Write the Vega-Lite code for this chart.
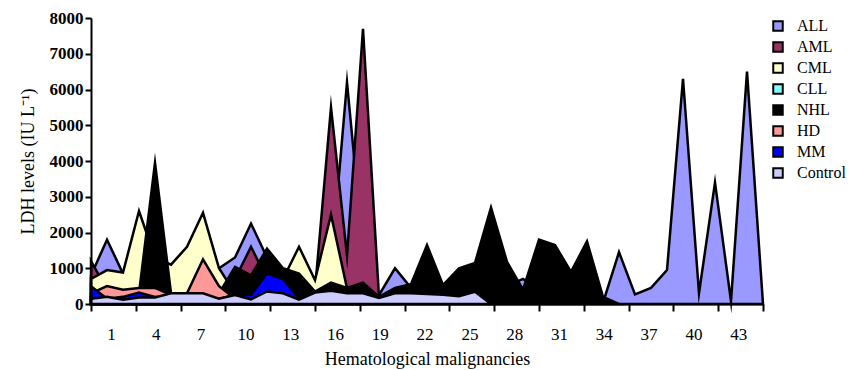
{
  "$schema": "https://vega.github.io/schema/vega-lite/v6.json",
  "width": 672,
  "height": 286,
  "autosize": {"type": "none"},
  "padding": {"left": 91, "top": 18, "right": 94, "bottom": 66},
  "background": "white",
  "config": {"view": {"stroke": null}, "font": "Liberation Serif"},
  "data": {"values": [
    {"group":"ALL","case":1,"ldh":800},{"group":"ALL","case":2,"ldh":1800},{"group":"ALL","case":3,"ldh":850},{"group":"ALL","case":4,"ldh":500},{"group":"ALL","case":5,"ldh":500},{"group":"ALL","case":6,"ldh":600},{"group":"ALL","case":7,"ldh":600},{"group":"ALL","case":8,"ldh":700},{"group":"ALL","case":9,"ldh":1000},{"group":"ALL","case":10,"ldh":1300},{"group":"ALL","case":11,"ldh":2250},{"group":"ALL","case":12,"ldh":1300},{"group":"ALL","case":13,"ldh":880},{"group":"ALL","case":14,"ldh":500},{"group":"ALL","case":15,"ldh":400},{"group":"ALL","case":16,"ldh":1000},{"group":"ALL","case":17,"ldh":6200},{"group":"ALL","case":18,"ldh":1500},{"group":"ALL","case":19,"ldh":250},{"group":"ALL","case":20,"ldh":1000},{"group":"ALL","case":21,"ldh":450},{"group":"ALL","case":22,"ldh":400},{"group":"ALL","case":23,"ldh":400},{"group":"ALL","case":24,"ldh":400},{"group":"ALL","case":25,"ldh":400},{"group":"ALL","case":26,"ldh":400},{"group":"ALL","case":27,"ldh":500},{"group":"ALL","case":28,"ldh":700},{"group":"ALL","case":29,"ldh":400},{"group":"ALL","case":30,"ldh":400},{"group":"ALL","case":31,"ldh":400},{"group":"ALL","case":32,"ldh":300},{"group":"ALL","case":33,"ldh":30},{"group":"ALL","case":34,"ldh":1450},{"group":"ALL","case":35,"ldh":270},{"group":"ALL","case":36,"ldh":450},{"group":"ALL","case":37,"ldh":950},{"group":"ALL","case":38,"ldh":6300},{"group":"ALL","case":39,"ldh":300},{"group":"ALL","case":40,"ldh":3400},{"group":"ALL","case":41,"ldh":80},{"group":"ALL","case":42,"ldh":6500},{"group":"ALL","case":43,"ldh":0},
    {"group":"AML","case":1,"ldh":1200},{"group":"AML","case":2,"ldh":400},{"group":"AML","case":3,"ldh":400},{"group":"AML","case":4,"ldh":400},{"group":"AML","case":5,"ldh":400},{"group":"AML","case":6,"ldh":400},{"group":"AML","case":7,"ldh":400},{"group":"AML","case":8,"ldh":400},{"group":"AML","case":9,"ldh":500},{"group":"AML","case":10,"ldh":700},{"group":"AML","case":11,"ldh":1600},{"group":"AML","case":12,"ldh":700},{"group":"AML","case":13,"ldh":500},{"group":"AML","case":14,"ldh":400},{"group":"AML","case":15,"ldh":400},{"group":"AML","case":16,"ldh":5500},{"group":"AML","case":17,"ldh":1350},{"group":"AML","case":18,"ldh":7700},{"group":"AML","case":19,"ldh":200},{"group":"AML","case":20,"ldh":0},
    {"group":"CML","case":1,"ldh":700},{"group":"CML","case":2,"ldh":950},{"group":"CML","case":3,"ldh":880},{"group":"CML","case":4,"ldh":2600},{"group":"CML","case":5,"ldh":1300},{"group":"CML","case":6,"ldh":1100},{"group":"CML","case":7,"ldh":1600},{"group":"CML","case":8,"ldh":2550},{"group":"CML","case":9,"ldh":1000},{"group":"CML","case":10,"ldh":300},{"group":"CML","case":11,"ldh":300},{"group":"CML","case":12,"ldh":300},{"group":"CML","case":13,"ldh":700},{"group":"CML","case":14,"ldh":1600},{"group":"CML","case":15,"ldh":670},{"group":"CML","case":16,"ldh":2500},{"group":"CML","case":17,"ldh":440},{"group":"CML","case":18,"ldh":0},
    {"group":"NHL","case":1,"ldh":200},{"group":"NHL","case":2,"ldh":200},{"group":"NHL","case":3,"ldh":250},{"group":"NHL","case":4,"ldh":300},{"group":"NHL","case":5,"ldh":3950},{"group":"NHL","case":6,"ldh":300},{"group":"NHL","case":7,"ldh":200},{"group":"NHL","case":8,"ldh":200},{"group":"NHL","case":9,"ldh":300},{"group":"NHL","case":10,"ldh":1040},{"group":"NHL","case":11,"ldh":800},{"group":"NHL","case":12,"ldh":1550},{"group":"NHL","case":13,"ldh":1000},{"group":"NHL","case":14,"ldh":850},{"group":"NHL","case":15,"ldh":350},{"group":"NHL","case":16,"ldh":600},{"group":"NHL","case":17,"ldh":450},{"group":"NHL","case":18,"ldh":600},{"group":"NHL","case":19,"ldh":200},{"group":"NHL","case":20,"ldh":450},{"group":"NHL","case":21,"ldh":550},{"group":"NHL","case":22,"ldh":1650},{"group":"NHL","case":23,"ldh":530},{"group":"NHL","case":24,"ldh":1000},{"group":"NHL","case":25,"ldh":1150},{"group":"NHL","case":26,"ldh":2700},{"group":"NHL","case":27,"ldh":1180},{"group":"NHL","case":28,"ldh":400},{"group":"NHL","case":29,"ldh":1800},{"group":"NHL","case":30,"ldh":1650},{"group":"NHL","case":31,"ldh":900},{"group":"NHL","case":32,"ldh":1750},{"group":"NHL","case":33,"ldh":200},{"group":"NHL","case":34,"ldh":0},
    {"group":"HD","case":1,"ldh":300},{"group":"HD","case":2,"ldh":500},{"group":"HD","case":3,"ldh":400},{"group":"HD","case":4,"ldh":450},{"group":"HD","case":5,"ldh":450},{"group":"HD","case":6,"ldh":250},{"group":"HD","case":7,"ldh":300},{"group":"HD","case":8,"ldh":1250},{"group":"HD","case":9,"ldh":500},{"group":"HD","case":10,"ldh":150},{"group":"HD","case":11,"ldh":0},
    {"group":"MM","case":1,"ldh":500},{"group":"MM","case":2,"ldh":150},{"group":"MM","case":3,"ldh":200},{"group":"MM","case":4,"ldh":320},{"group":"MM","case":5,"ldh":200},{"group":"MM","case":6,"ldh":150},{"group":"MM","case":7,"ldh":150},{"group":"MM","case":8,"ldh":150},{"group":"MM","case":9,"ldh":150},{"group":"MM","case":10,"ldh":250},{"group":"MM","case":11,"ldh":250},{"group":"MM","case":12,"ldh":860},{"group":"MM","case":13,"ldh":700},{"group":"MM","case":14,"ldh":150},{"group":"MM","case":15,"ldh":0},
    {"group":"Control","case":1,"ldh":150},{"group":"Control","case":2,"ldh":200},{"group":"Control","case":3,"ldh":120},{"group":"Control","case":4,"ldh":180},{"group":"Control","case":5,"ldh":180},{"group":"Control","case":6,"ldh":300},{"group":"Control","case":7,"ldh":300},{"group":"Control","case":8,"ldh":300},{"group":"Control","case":9,"ldh":150},{"group":"Control","case":10,"ldh":250},{"group":"Control","case":11,"ldh":130},{"group":"Control","case":12,"ldh":350},{"group":"Control","case":13,"ldh":300},{"group":"Control","case":14,"ldh":120},{"group":"Control","case":15,"ldh":320},{"group":"Control","case":16,"ldh":370},{"group":"Control","case":17,"ldh":300},{"group":"Control","case":18,"ldh":300},{"group":"Control","case":19,"ldh":170},{"group":"Control","case":20,"ldh":300},{"group":"Control","case":21,"ldh":300},{"group":"Control","case":22,"ldh":280},{"group":"Control","case":23,"ldh":260},{"group":"Control","case":24,"ldh":220},{"group":"Control","case":25,"ldh":340},{"group":"Control","case":26,"ldh":0}
  ]},
  "encoding": {
    "x": {
      "field": "case", "type": "quantitative",
      "scale": {"domain": [1, 43], "nice": false, "zero": false},
      "axis": {
        "title": "Hematological malignancies",
        "values": [1, 3.8, 6.6, 9.4, 12.2, 15, 17.8, 20.6, 23.4, 26.2, 29, 31.8, 34.6, 37.4, 40.2, 43],
        "labelExpr": "datum.value < 42.5 ? '' + (round((datum.value - 1) / 2.8) * 3 + 1) : ''",
        "labelOffset": 20, "labelFlush": false, "labelOverlap": false,
        "grid": false, "zindex": 1,
        "domainColor": "black", "domainWidth": 2,
        "tickColor": "black", "tickWidth": 2, "tickSize": 7,
        "labelFont": "Liberation Serif", "labelFontSize": 17, "labelColor": "black", "labelPadding": 15,
        "titleFont": "Liberation Serif", "titleFontSize": 18, "titleFontWeight": "normal", "titleColor": "black", "titlePadding": 8
      }
    },
    "y": {
      "field": "ldh", "type": "quantitative", "stack": null,
      "scale": {"domain": [0, 8000], "nice": false},
      "axis": {
        "title": "LDH levels (IU L⁻¹)",
        "values": [0, 1000, 2000, 3000, 4000, 5000, 6000, 7000, 8000],
        "format": "d", "grid": false, "zindex": 1,
        "domainColor": "black", "domainWidth": 2,
        "tickColor": "black", "tickWidth": 2, "tickSize": 6,
        "labelFont": "Liberation Serif", "labelFontSize": 17, "labelFontWeight": "bold", "labelColor": "black", "labelPadding": 2,
        "titleFont": "Liberation Serif", "titleFontSize": 18, "titleFontWeight": "normal", "titleColor": "black", "titlePadding": 12
      }
    },
    "color": {
      "field": "group", "type": "nominal",
      "scale": {
        "domain": ["ALL", "AML", "CML", "CLL", "NHL", "HD", "MM", "Control"],
        "range": ["#9999FF", "#993366", "#FFFFCC", "#80FFFF", "#000000", "#FF9999", "#0000FF", "#CCCCFF"]
      },
      "legend": {
        "orient": "none", "legendX": 679, "legendY": 0, "title": null,
        "symbolType": "square", "symbolSize": 90, "symbolStrokeColor": "black", "symbolStrokeWidth": 2, "symbolOpacity": 1,
        "labelFont": "Liberation Serif", "labelFontSize": 16, "labelColor": "black",
        "rowPadding": 3, "labelOffset": 11, "padding": 0
      }
    }
  },
  "layer": [
    {"transform": [{"filter": "datum.group == 'ALL'"}], "mark": {"type": "area", "stroke": "black", "strokeWidth": 2.5, "strokeJoin": "miter", "strokeMiterLimit": 12, "opacity": 1, "fillOpacity": 1}},
    {"transform": [{"filter": "datum.group == 'AML'"}], "mark": {"type": "area", "stroke": "black", "strokeWidth": 2.5, "strokeJoin": "miter", "strokeMiterLimit": 12, "opacity": 1, "fillOpacity": 1}},
    {"transform": [{"filter": "datum.group == 'CML'"}], "mark": {"type": "area", "stroke": "black", "strokeWidth": 2.5, "strokeJoin": "miter", "strokeMiterLimit": 12, "opacity": 1, "fillOpacity": 1}},
    {"transform": [{"filter": "datum.group == 'NHL'"}], "mark": {"type": "area", "stroke": "black", "strokeWidth": 2.5, "strokeJoin": "miter", "strokeMiterLimit": 12, "opacity": 1, "fillOpacity": 1}},
    {"transform": [{"filter": "datum.group == 'HD'"}], "mark": {"type": "area", "stroke": "black", "strokeWidth": 2.5, "strokeJoin": "miter", "strokeMiterLimit": 12, "opacity": 1, "fillOpacity": 1}},
    {"transform": [{"filter": "datum.group == 'MM'"}], "mark": {"type": "area", "stroke": "black", "strokeWidth": 2.5, "strokeJoin": "miter", "strokeMiterLimit": 12, "opacity": 1, "fillOpacity": 1}},
    {"transform": [{"filter": "datum.group == 'Control'"}], "mark": {"type": "area", "stroke": "black", "strokeWidth": 2.5, "strokeJoin": "miter", "strokeMiterLimit": 12, "opacity": 1, "fillOpacity": 1}}
  ]
}
